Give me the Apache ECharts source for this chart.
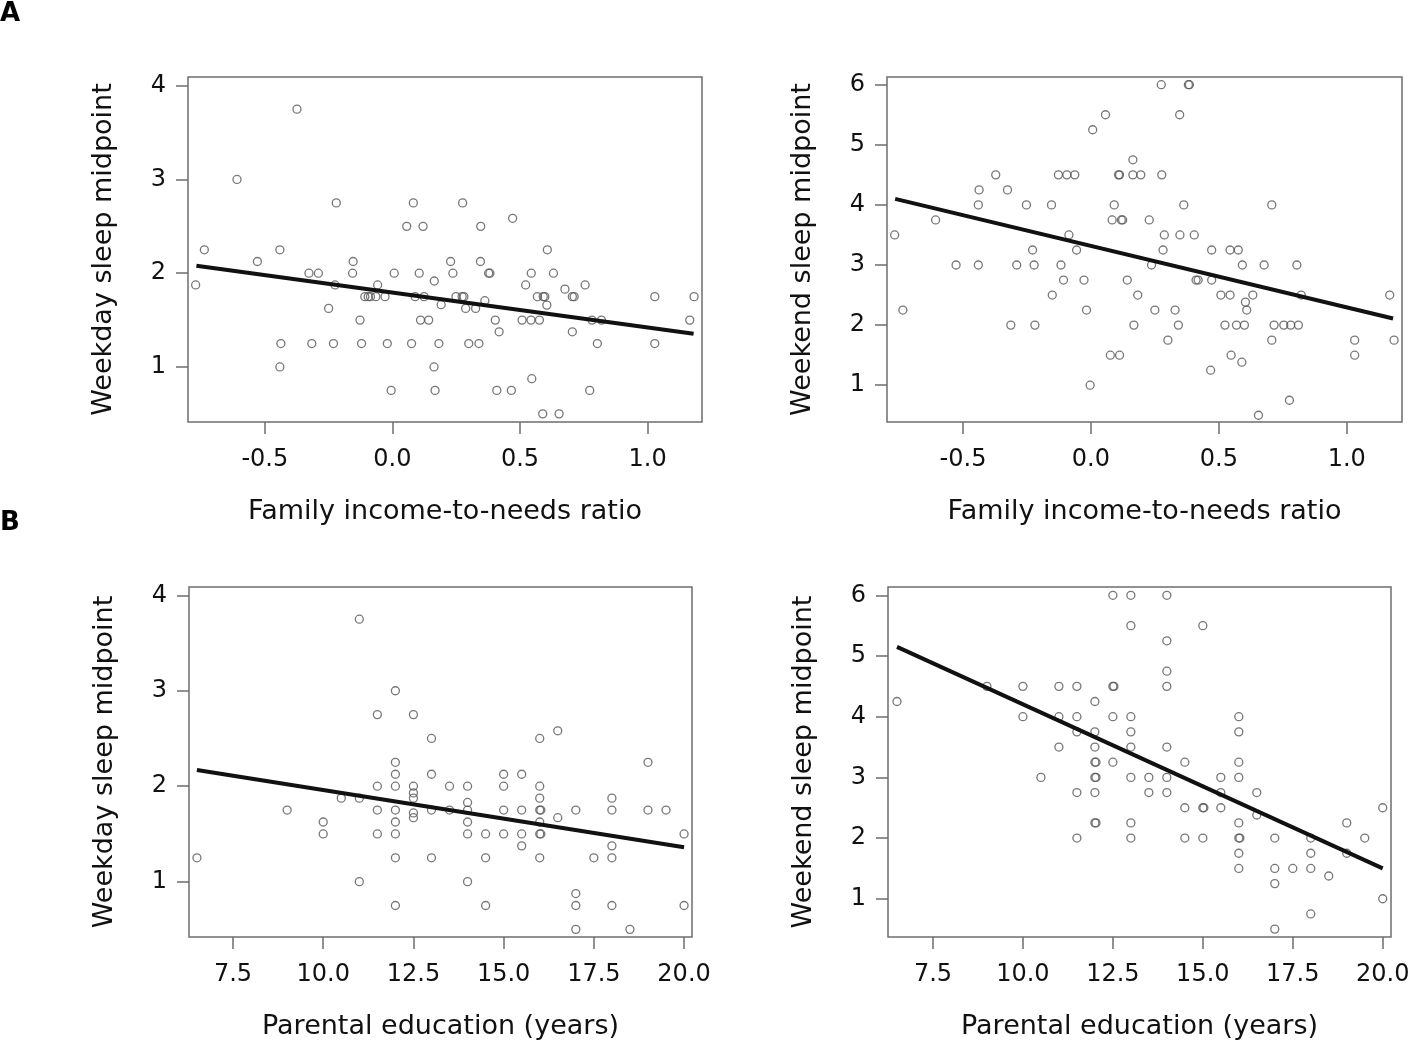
<!DOCTYPE html>
<html>
<head>
<meta charset="utf-8">
<title>Sleep midpoint vs SES</title>
<script src="https://cdn.jsdelivr.net/npm/echarts@6/dist/echarts.min.js"></script>
<style>
  html, body { margin: 0; padding: 0; background: #fff; }
  #chart { width: 1418px; height: 1052px; }
</style>
</head>
<body>
<div id="chart"></div>
<script>
// tick labels
var incomeTicks = [-0.5, 0, 0.5, 1.0];
var eduTicks = [7.5, 10, 12.5, 15, 17.5, 20];
var weekdayTicks = [1, 2, 3, 4];
var weekendTicks = [1, 2, 3, 4, 5, 6];

// A, left: income-to-needs vs weekday midpoint
var incomeWeekday = [
  [-0.771,1.875],[-0.737,2.25],[-0.609,3.0],[-0.529,2.125],[-0.441,2.25],[-0.437,1.25],
  [-0.441,1.0],[-0.374,3.75],[-0.327,2.0],[-0.290,2.0],[-0.316,1.25],[-0.220,2.75],
  [-0.225,1.875],[-0.250,1.625],[-0.231,1.25],[-0.154,2.125],[-0.156,2.0],[-0.127,1.5],
  [-0.121,1.25],[-0.108,1.75],[-0.095,1.75],[-0.086,1.75],[-0.065,1.75],[-0.029,1.75],
  [-0.058,1.875],[-0.020,1.25],[0.007,2.0],[-0.005,0.75],[0.056,2.5],[0.082,2.75],
  [0.120,2.5],[0.105,2.0],[0.089,1.75],[0.124,1.75],[0.075,1.25],[0.110,1.5],
  [0.142,1.5],[0.164,1.917],[0.191,1.664],[0.182,1.25],[0.163,1.0],[0.167,0.75],
  [0.228,2.125],[0.237,2.0],[0.249,1.75],[0.273,1.75],[0.280,1.75],[0.275,2.75],
  [0.287,1.625],[0.326,1.625],[0.299,1.25],[0.339,1.25],[0.346,2.5],[0.345,2.125],
  [0.377,2.0],[0.382,2.0],[0.362,1.707],[0.403,1.5],[0.418,1.375],[0.409,0.75],
  [0.466,0.75],[0.471,2.586],[0.522,1.875],[0.508,1.5],[0.543,1.5],[0.576,1.5],
  [0.544,2.0],[0.546,0.875],[0.568,1.75],[0.591,1.75],[0.597,1.75],[0.605,1.66],
  [0.607,2.25],[0.631,2.0],[0.589,0.5],[0.653,0.5],[0.676,1.83],[0.705,1.75],
  [0.712,1.75],[0.755,1.875],[0.705,1.375],[0.773,0.75],[0.782,1.5],[0.819,1.5],
  [0.803,1.25],[1.028,1.75],[1.028,1.25],[1.165,1.5],[1.182,1.75]
];

// A, right: income-to-needs vs weekend midpoint
var incomeWeekend = [
  [-0.767,3.5],[-0.735,2.25],[-0.607,3.75],[-0.527,3.0],[-0.440,4.0],[-0.437,4.25],
  [-0.440,3.0],[-0.372,4.5],[-0.326,4.25],[-0.313,2.0],[-0.290,3.0],[-0.252,4.0],
  [-0.228,3.25],[-0.222,3.0],[-0.219,2.0],[-0.154,4.0],[-0.151,2.5],[-0.127,4.5],
  [-0.094,4.5],[-0.063,4.5],[-0.117,3.0],[-0.107,2.75],[-0.086,3.5],[-0.056,3.25],
  [-0.027,2.75],[-0.017,2.25],[-0.003,1.0],[0.007,5.25],[0.057,5.5],[0.076,1.5],
  [0.112,1.5],[0.083,3.75],[0.091,4.0],[0.108,4.5],[0.112,4.5],[0.119,3.75],
  [0.124,3.75],[0.142,2.75],[0.164,4.75],[0.164,4.5],[0.195,4.5],[0.183,2.5],
  [0.168,2.0],[0.228,3.75],[0.237,3.0],[0.275,6.0],[0.381,6.0],[0.385,6.0],
  [0.347,5.5],[0.277,4.5],[0.363,4.0],[0.287,3.5],[0.348,3.5],[0.404,3.5],
  [0.282,3.25],[0.250,2.25],[0.329,2.25],[0.342,2.0],[0.301,1.75],[0.411,2.75],
  [0.419,2.75],[0.472,3.25],[0.472,2.75],[0.468,1.25],[0.508,2.5],[0.544,2.5],
  [0.544,3.25],[0.576,3.25],[0.524,2.0],[0.548,1.5],[0.592,3.0],[0.569,2.0],
  [0.600,2.0],[0.590,1.383],[0.604,2.383],[0.609,2.25],[0.633,2.5],[0.655,0.5],
  [0.677,3.0],[0.707,4.0],[0.707,1.75],[0.716,2.0],[0.754,2.0],[0.781,2.0],
  [0.811,2.0],[0.776,0.75],[0.805,3.0],[0.822,2.5],[1.031,1.75],[1.031,1.5],
  [1.168,2.5],[1.185,1.75]
];

// B, left: parental education vs weekday midpoint
var eduWeekday = [
  [6.5,1.25],[9.0,1.75],[10.0,1.625],[10.0,1.5],[10.5,1.875],[11.0,3.75],[11.0,1.875],
  [11.0,1.0],[11.5,2.75],[11.5,2.0],[11.5,1.75],[11.5,1.5],[12.0,3.0],[12.0,2.25],
  [12.0,2.125],[12.0,2.0],[12.0,1.75],[12.0,1.625],[12.0,1.5],[12.0,1.25],[12.0,0.75],
  [12.5,2.75],[12.5,2.0],[12.5,1.93],[12.5,1.875],[12.5,1.72],[12.5,1.67],[13.0,2.5],
  [13.0,2.125],[13.0,1.75],[13.0,1.25],[13.5,2.0],[13.5,1.75],[14.0,2.0],[14.0,1.83],
  [14.0,1.75],[14.0,1.625],[14.0,1.5],[14.0,1.0],[14.5,1.5],[14.5,1.25],[14.5,0.75],
  [15.0,2.125],[15.0,2.0],[15.0,1.75],[15.0,1.5],[15.5,2.125],[15.5,1.75],[15.5,1.5],
  [15.5,1.375],[16.0,2.5],[16.0,2.0],[16.0,1.875],[16.0,1.75],[16.03,1.75],[16.0,1.625],
  [16.0,1.5],[16.03,1.5],[16.0,1.25],[16.5,2.58],[16.5,1.67],[17.0,1.75],[17.0,0.875],
  [17.0,0.75],[17.0,0.5],[17.5,1.25],[18.0,1.875],[18.0,1.75],[18.0,1.375],[18.0,1.25],
  [18.0,0.75],[18.5,0.5],[19.0,2.25],[19.0,1.75],[19.5,1.75],[20.0,1.5],[20.0,0.75]
];

// B, right: parental education vs weekend midpoint
var eduWeekend = [
  [6.5,4.25],[9.0,4.5],[10.0,4.5],[10.0,4.0],[10.5,3.0],[11.0,4.5],[11.0,4.0],[11.0,3.5],
  [11.5,4.5],[11.5,4.0],[11.5,3.75],[11.5,2.75],[11.5,2.0],[12.0,4.25],[12.0,3.75],
  [12.0,3.5],[12.0,3.25],[12.03,3.25],[12.0,3.0],[12.03,3.0],[12.0,2.75],[12.0,2.25],
  [12.03,2.25],[12.5,6.0],[12.5,4.5],[12.53,4.5],[12.5,4.0],[12.5,3.25],[13.0,6.0],
  [13.0,5.5],[13.0,4.0],[13.0,3.75],[13.0,3.5],[13.0,3.0],[13.0,2.25],[13.0,2.0],
  [13.5,3.0],[13.5,2.75],[14.0,6.0],[14.0,5.25],[14.0,4.75],[14.0,4.5],[14.0,3.5],
  [14.0,3.0],[14.0,2.75],[14.5,3.25],[14.5,2.5],[14.5,2.0],[15.0,5.5],[15.0,2.5],
  [15.03,2.5],[15.0,2.0],[15.5,3.0],[15.5,2.75],[15.5,2.5],[16.0,4.0],[16.0,3.75],
  [16.0,3.25],[16.0,3.0],[16.0,2.25],[16.0,2.0],[16.03,2.0],[16.0,1.75],[16.0,1.5],
  [16.5,2.75],[16.5,2.38],[17.0,2.0],[17.0,1.5],[17.0,1.25],[17.0,0.5],[17.5,1.5],
  [18.0,2.0],[18.0,1.75],[18.0,1.5],[18.0,0.75],[18.5,1.375],[19.0,2.25],[19.0,1.75],
  [19.5,2.0],[20.0,2.5],[20.0,1.0]
];

// fitted regression lines (end points)
var fitIncomeWeekday = [[-0.768, 2.08], [1.18, 1.354]];
var fitIncomeWeekend = [[-0.765, 4.10], [1.181, 2.11]];
var fitEduWeekday = [[6.5, 2.17], [20.0, 1.36]];
var fitEduWeekend = [[6.5, 5.15], [20.0, 1.50]];

var FONT = 'DejaVu Sans, Liberation Sans, Arial, sans-serif';

var chart = echarts.init(document.getElementById('chart'));

var panels = [
  { grid: { left: 188, top: 77, width: 514, height: 345 }, xr: [-0.801, 1.213], yr: [0.413, 4.093],
    xt: incomeTicks, yt: weekdayTicks, xn: 'Family income-to-needs ratio', yn: 'Weekday sleep midpoint',
    pts: incomeWeekday, fit: fitIncomeWeekday },
  { grid: { left: 887, top: 77, width: 515, height: 345 }, xr: [-0.797, 1.216], yr: [0.388, 6.128],
    xt: incomeTicks, yt: weekendTicks, xn: 'Family income-to-needs ratio', yn: 'Weekend sleep midpoint',
    pts: incomeWeekend, fit: fitIncomeWeekend },
  { grid: { left: 189, top: 587, width: 503, height: 350 }, xr: [6.28, 20.22], yr: [0.42, 4.087],
    xt: eduTicks, yt: weekdayTicks, xn: 'Parental education (years)', yn: 'Weekday sleep midpoint',
    pts: eduWeekday, fit: fitEduWeekday },
  { grid: { left: 888, top: 587, width: 503, height: 350 }, xr: [6.25, 20.23], yr: [0.37, 6.137],
    xt: eduTicks, yt: weekendTicks, xn: 'Parental education (years)', yn: 'Weekend sleep midpoint',
    pts: eduWeekend, fit: fitEduWeekend }
];

var grids = [], xAxes = [], yAxes = [], series = [];
panels.forEach(function (p, i) {
  grids.push(Object.assign({ show: true, borderColor: '#6e6e6e', borderWidth: 1.5, backgroundColor: 'transparent' }, p.grid));
  xAxes.push({
    type: 'value', gridIndex: i, min: p.xr[0], max: p.xr[1],
    axisLine: { show: false, onZero: false },
    axisTick: { show: true, length: 12, lineStyle: { color: '#6e6e6e', width: 1.5 }, customValues: p.xt },
    axisLabel: { customValues: p.xt, margin: 26, fontSize: 24, color: '#111', fontFamily: FONT,
      formatter: function (v) { return v.toFixed(1); } },
    splitLine: { show: false },
    name: p.xn, nameLocation: 'middle', nameGap: 76,
    nameTextStyle: { fontSize: 27, color: '#111', fontFamily: FONT }
  });
  yAxes.push({
    type: 'value', gridIndex: i, min: p.yr[0], max: p.yr[1],
    axisLine: { show: false, onZero: false },
    axisTick: { show: true, length: 12, lineStyle: { color: '#6e6e6e', width: 1.5 }, customValues: p.yt },
    axisLabel: { customValues: p.yt, margin: 22, fontSize: 24, color: '#111', fontFamily: FONT },
    splitLine: { show: false },
    name: p.yn, nameLocation: 'middle', nameGap: 71,
    nameTextStyle: { fontSize: 27, color: '#111', fontFamily: FONT }
  });
  series.push({
    type: 'scatter', xAxisIndex: i, yAxisIndex: i, data: p.pts,
    symbol: 'circle', symbolSize: 8,
    itemStyle: { color: 'transparent', borderColor: '#555', borderWidth: 1.3 },
    silent: true
  });
  series.push({
    type: 'line', xAxisIndex: i, yAxisIndex: i, data: p.fit,
    symbol: 'none', lineStyle: { color: '#111', width: 4 }, silent: true
  });
});

chart.setOption({
  animation: false,
  textStyle: { fontFamily: FONT },
  grid: grids,
  xAxis: xAxes,
  yAxis: yAxes,
  series: series,
  graphic: [
    { type: 'text', left: 0, top: 1, style: { text: 'A', fontSize: 26, fontWeight: 'bold', fill: '#000', fontFamily: FONT } },
    { type: 'text', left: 0, top: 510, style: { text: 'B', fontSize: 26, fontWeight: 'bold', fill: '#000', fontFamily: FONT } }
  ]
});
</script>
</body>
</html>
